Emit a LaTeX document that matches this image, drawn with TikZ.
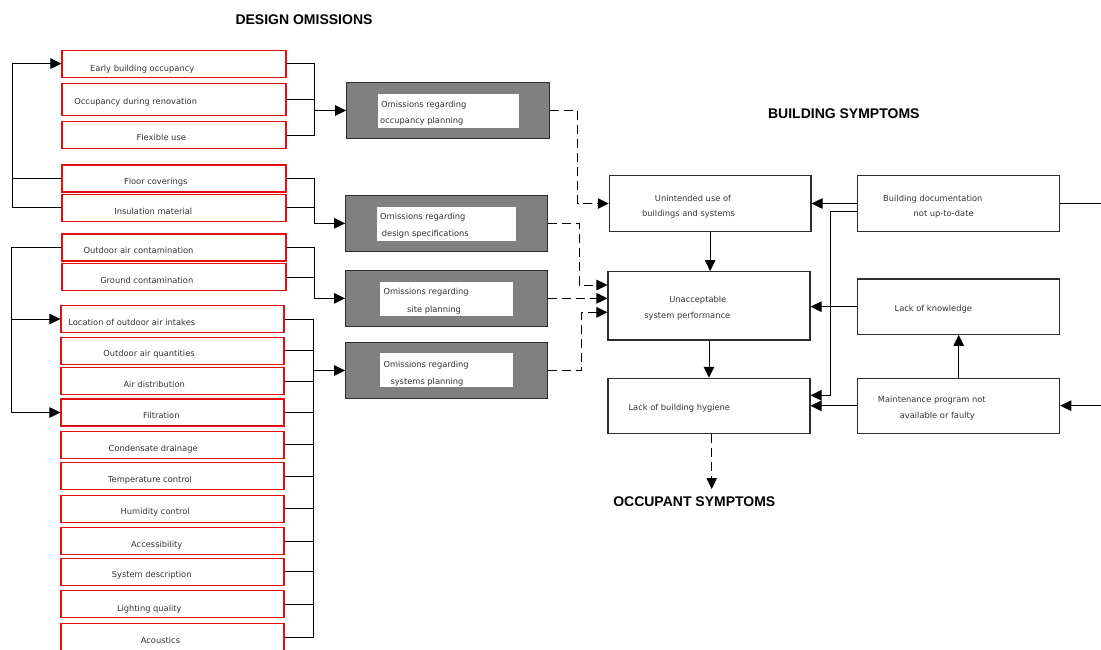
\documentclass[tikz,border=0pt]{standalone}
\usepackage{fontspec}
\setmainfont{DejaVu Sans}
\newfontfamily\headfont{Liberation Sans}
\usetikzlibrary{arrows.meta}
\definecolor{boxred}{RGB}{230,15,15}
\definecolor{ink}{RGB}{50,50,50}
\definecolor{edgegray}{RGB}{45,45,45}
\definecolor{shade}{RGB}{128,128,128}

\begin{document}
\begin{tikzpicture}[x=1pt,y=-1pt,
  redbox/.style={draw=boxred, line width=1.1pt, minimum width=224pt, minimum height=27pt, inner sep=0pt},
  lowbox/.style={redbox, minimum width=223pt},
  greybox/.style={draw=edgegray, fill=shade, line width=1.2pt, minimum width=202pt, minimum height=55.5pt, inner sep=0pt},
  whitepanel/.style={fill=white, minimum width=133pt, minimum height=33.7pt, inner sep=0pt},
  plainbox/.style={draw=edgegray, line width=1.1pt, minimum width=202pt, minimum height=55.5pt, inner sep=0pt},
  boxlabel/.style={font=\fontsize{8.3}{10}\selectfont, text=ink, inner sep=0pt, text height=6pt, text depth=1.5pt},
  titletext/.style={font=\headfont\bfseries\fontsize{14}{16}\selectfont, text=black, inner sep=0pt, text height=10pt, text depth=0pt},
  conn/.style={draw=black, line width=1pt},
  conarr/.style={conn, -{Triangle[length=11pt,width=10.5pt]}},
  dasharr/.style={conarr, dash pattern=on 9pt off 5pt},
]
\useasboundingbox (0,0) rectangle (1101,649);

% ---- titles
\node[titletext] (hdesign) at (304,19) {DESIGN OMISSIONS};
\node[titletext] (hbuild) at (843.8,113.3) {BUILDING SYMPTOMS};
\node[titletext] (hoccup) at (694.3,501) {OCCUPANT SYMPTOMS};

% ---- design omission items
\node[redbox] (r1) at (174,63.6) {};
\node[redbox, minimum height=32.4pt] (r2) at (174,99.5) {};
\node[redbox] (r3) at (174,135) {};
\node[redbox] (r4) at (174,178.5) {};
\node[redbox] (r5) at (174,207.8) {};
\node[redbox] (r6) at (174,247.5) {};
\node[redbox] (r7) at (174,277) {};
\node[lowbox] (r8) at (172.5,319) {};
\node[lowbox] (r9) at (172.5,350.7) {};
\node[lowbox] (r10) at (172.5,381.4) {};
\node[lowbox] (r11) at (172.5,412.5) {};
\node[lowbox] (r12) at (172.5,444.8) {};
\node[lowbox] (r13) at (172.5,476) {};
\node[lowbox] (r14) at (172.5,508.8) {};
\node[lowbox] (r15) at (172.5,541) {};
\node[lowbox] (r16) at (172.5,571.8) {};
\node[lowbox] (r17) at (172.5,604.2) {};
\node[lowbox] (r18) at (172.5,637) {};

\node[boxlabel] (t1) at (142.2,69) {Early building occupancy};
\node[boxlabel] (t2) at (135.7,102.7) {Occupancy during renovation};
\node[boxlabel] (t3) at (161.3,138.7) {Flexible use};
\node[boxlabel] (t4) at (155.8,182.7) {Floor coverings};
\node[boxlabel] (t5) at (153.3,212.7) {Insulation material};
\node[boxlabel] (t6) at (138.5,251.7) {Outdoor air contamination};
\node[boxlabel] (t7) at (146.8,281.7) {Ground contamination};
\node[boxlabel] (t8) at (131.8,323.7) {Location of outdoor air intakes};
\node[boxlabel] (t9) at (149,354.7) {Outdoor air quantities};
\node[boxlabel] (t10) at (154.2,385.7) {Air distribution};
\node[boxlabel] (t11) at (161.3,416.7) {Filtration};
\node[boxlabel] (t12) at (153.2,449.7) {Condensate drainage};
\node[boxlabel] (t13) at (150,480) {Temperature control};
\node[boxlabel] (t14) at (155.2,512.7) {Humidity control};
\node[boxlabel] (t15) at (156.7,545.7) {Accessibility};
\node[boxlabel] (t16) at (151.7,575.7) {System description};
\node[boxlabel] (t17) at (149.3,609) {Lighting quality};
\node[boxlabel] (t18) at (160.5,641.7) {Acoustics};

% ---- omission groups
\node[greybox, minimum width=202.6pt] (g1) at (448,110.5) {};
\node[greybox, minimum width=201.6pt] (g2) at (446.5,223.35) {};
\node[greybox, minimum width=201.6pt] (g3) at (446.5,298.35) {};
\node[greybox, minimum width=201.6pt] (g4) at (446.5,370.5) {};
\node[whitepanel, minimum width=141.3pt] (w1) at (448.35,110.85) {};
\node[whitepanel, minimum width=139pt] (w2) at (446.5,223.85) {};
\node[whitepanel, minimum height=34pt] (w3) at (446.5,299) {};
\node[whitepanel] (w4) at (446.5,369.85) {};

\node[boxlabel, anchor=west] (ga1) at (381,105) {Omissions regarding};
\node[boxlabel, anchor=west] (gb1) at (380,121.7) {occupancy planning};
\node[boxlabel, anchor=west] (ga2) at (380,217.7) {Omissions regarding};
\node[boxlabel, anchor=west] (gb2) at (381.7,234.7) {design specifications};
\node[boxlabel, anchor=west] (ga3) at (383.3,292.7) {Omissions regarding};
\node[boxlabel, anchor=west] (gb3) at (407,310) {site planning};
\node[boxlabel, anchor=west] (ga4) at (383.3,365) {Omissions regarding};
\node[boxlabel, anchor=west] (gb4) at (390.3,382) {systems planning};

% ---- building symptoms and causes
\node[plainbox, minimum width=201.7pt, minimum height=55.6pt] (U) at (710.15,203.5) {};
\node[plainbox, minimum height=68.3pt] (P) at (709,305.85) {};
\node[plainbox, minimum height=55pt] (H) at (709,405.8) {};
\node[plainbox, minimum height=55.6pt] (D) at (958.7,203.5) {};
\node[plainbox, minimum height=55.3pt] (K) at (958.7,306.65) {};
\node[plainbox, minimum height=55pt] (M) at (958.7,405.8) {};

\node[boxlabel] (ua) at (693,199) {Unintended use of};
\node[boxlabel] (ub) at (688.5,214.7) {buildings and systems};
\node[boxlabel] (pa) at (697.8,300) {Unacceptable};
\node[boxlabel] (pb) at (687.3,316.7) {system performance};
\node[boxlabel] (ha) at (679.3,408.7) {Lack of building hygiene};
\node[boxlabel] (da) at (932.8,199) {Building documentation};
\node[boxlabel] (db) at (943.7,214.7) {not up-to-date};
\node[boxlabel] (ka) at (933.3,309.7) {Lack of knowledge};
\node[boxlabel] (ma) at (931.8,400) {Maintenance program not};
\node[boxlabel] (mb) at (937.3,416.7) {available or faulty};

% ---- bus lines and turning points
\coordinate (b1) at (314,0);
\coordinate (b4) at (313.3,0);
\coordinate (l1) at (12,0);
\coordinate (l2) at (11,0);
\coordinate (k1) at (577.7,0);
\coordinate (k2) at (579,285);
\coordinate (k4) at (581,312.3);
\coordinate (dy) at (0,211);
\coordinate (jd) at (830,395.3);
\coordinate (occtip) at (711.7,489);
\coordinate (edgeD) at (1101,0);
\coordinate (edgeM) at (1101,405.7);

% items to omission groups
\draw[conn] (r1.east) -| (b1 |- r3.east) -- (r3.east);
\draw[conn] (r2.east) -- (r2.east -| b1);
\draw[conarr] (b1 |- g1.west) -- (g1.west);
\draw[conarr] (r4.east) -| (b1 |- g2.west) -- (g2.west);
\draw[conn] (r5.east) -- (r5.east -| b1);
\draw[conarr] (r6.east) -| (b1 |- g3.west) -- (g3.west);
\draw[conn] (r7.east) -- (r7.east -| b1);
\draw[conn] (r8.east) -| (b4 |- r18.east) -- (r18.east);
\foreach \i in {9,...,17} \draw[conn] (r\i.east) -- (r\i.east -| b4);
\draw[conn, line width=1.6pt] (b4 |- g4.west) -- (b4 |- r18.east);
\draw[conarr] (b4 |- g4.west) -- (g4.west);

% feedback loops on the left
\draw[conarr] (r5.west) -| (l1 |- r1.west) -- (r1.west);
\draw[conn] (r4.west) -- (r4.west -| l1);
\draw[conarr] (r6.west) -| (l2 |- r11.west) -- (r11.west);
\draw[conarr] (l2 |- r8.west) -- (r8.west);

% omission groups to building symptoms
\draw[dasharr] (g1.east) -| (k1 |- U.west) -- (U.west);
\draw[dasharr] (g2.east) -| (k2) -- (k2 -| P.west);
\draw[dasharr] (g3.east) -- (g3.east -| P.west);
\draw[dasharr] (g4.east) -| (k4) -- (k4 -| P.west);

% symptom chain
\draw[conarr] (U.south) -- (U.south |- P.north);
\draw[conarr] (P.south) -- (H.north);
\draw[dasharr] (H.south -| occtip) -- (occtip);

% causes
\draw[conarr] (D.west) -- (U.east);
\draw[conarr] (D.west |- dy) -| (jd) -- (H.east |- jd);
\draw[conarr] (K.west) -- (K.west -| P.east);
\draw[conarr] (M.west) -- (M.west -| H.east);
\draw[conarr] (M.north) -- (K.south);
\draw[conn] (D.east) -- (D.east -| edgeD);
\draw[conarr] (edgeM) -- (edgeM -| M.east);
\end{tikzpicture}
\end{document}
